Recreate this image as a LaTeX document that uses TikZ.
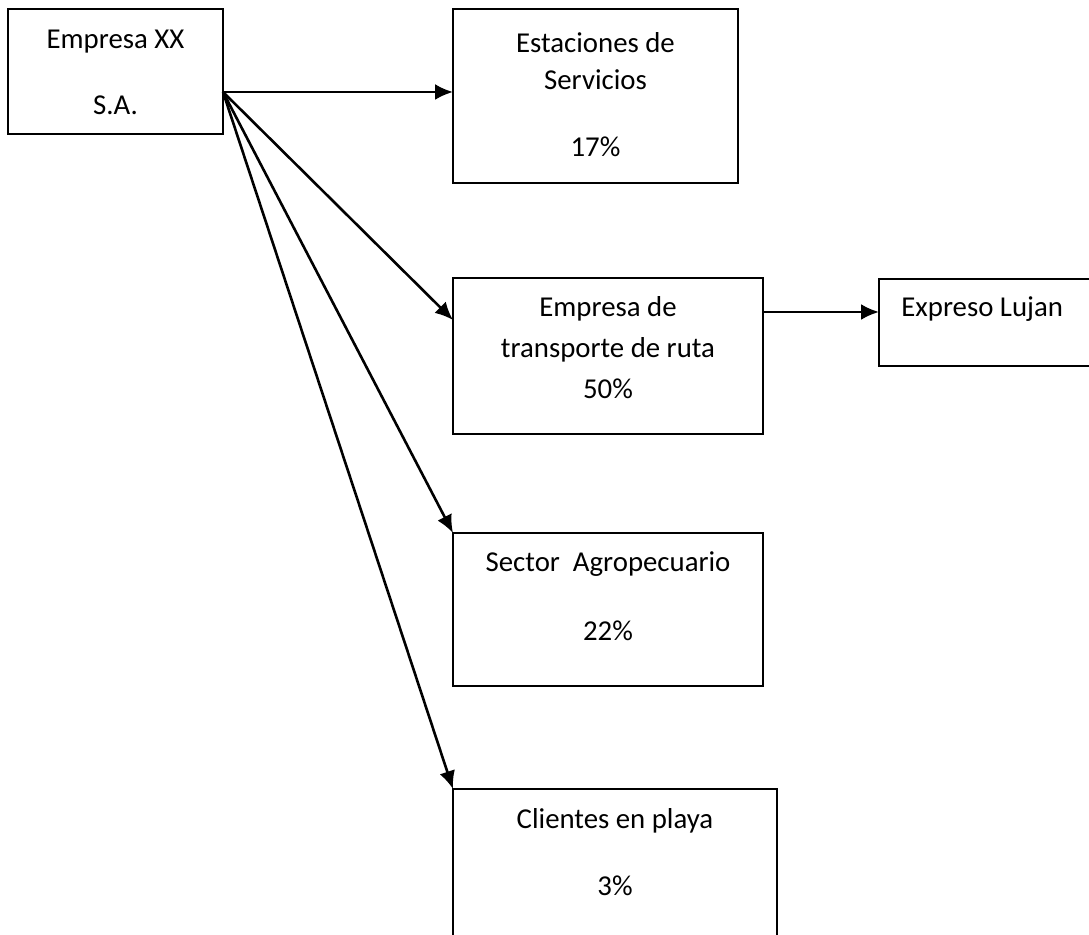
\documentclass[tikz,border=0pt]{standalone}
\usepackage{fontspec}
\setmainfont{Carlito}
\usetikzlibrary{arrows.meta}

\begin{document}
\begin{tikzpicture}[x=0.5pt, y=-0.5pt,
    box/.style={draw, line width=1.4pt, inner sep=0pt, outer sep=0pt, anchor=north west},
    txt/.style={anchor=base, inner sep=0pt, font=\fontsize{14.4}{17}\selectfont},
    link/.style={line width=1.3pt, -{Latex[length=9pt, width=8pt]}}]
      \useasboundingbox (0, 0) rectangle (1089, 935);
      \clip (0, 0) rectangle (1089, 935);
      \node[box, minimum width=107.5pt, minimum height=62.5pt] (emp) at (8, 9) {};
      \node[box, minimum width=142.5pt, minimum height=87pt] (est) at (453, 9) {};
      \node[box, minimum width=155pt, minimum height=78pt] (trans) at (453, 278) {};
      \node[box, minimum width=115pt, minimum height=43.5pt] (lujan) at (879, 279) {};
      \node[box, minimum width=155pt, minimum height=76.5pt] (agro) at (453, 533) {};
      \node[box, minimum width=162pt, minimum height=80pt] (cli) at (453, 789) {};
      \node[txt] (emp1) at (115.5, 49) {Empresa XX};
      \node[txt] (emp2) at (115.5, 115) {S.A.};
      \node[txt] (est1) at (595.5, 53) {Estaciones de};
      \node[txt] (est2) at (595.5, 90) {Servicios};
      \node[txt] (est3) at (595.5, 157) {17\%};
      \node[txt] (trans1) at (608, 317) {Empresa de};
      \node[txt] (trans2) at (608, 358) {transporte de ruta};
      \node[txt] (trans3) at (608, 399) {50\%};
      \node[txt, anchor=base west] (lujan1) at (901, 317) {Expreso Lujan};
      \node[txt] (agro1) at (608, 572) {Sector\ \ Agropecuario};
      \node[txt] (agro2) at (608, 641) {22\%};
      \node[txt] (cli1) at (615, 829) {Clientes en playa};
      \node[txt] (cli2) at (615, 896) {3\%};
      \coordinate (hub) at (223, 92);
      \coordinate (tr) at ([yshift=-17pt]trans.north east);
      \draw[link] (hub) -- (est.west |- hub);
      \draw[link] (hub) -- ([yshift=-21pt]trans.north west);
      \draw[link] (hub) -- (agro.north west);
      \draw[link] (hub) -- (cli.north west);
      \draw[link] (tr) -- (lujan.west |- tr);
    \end{tikzpicture}
\end{document}
